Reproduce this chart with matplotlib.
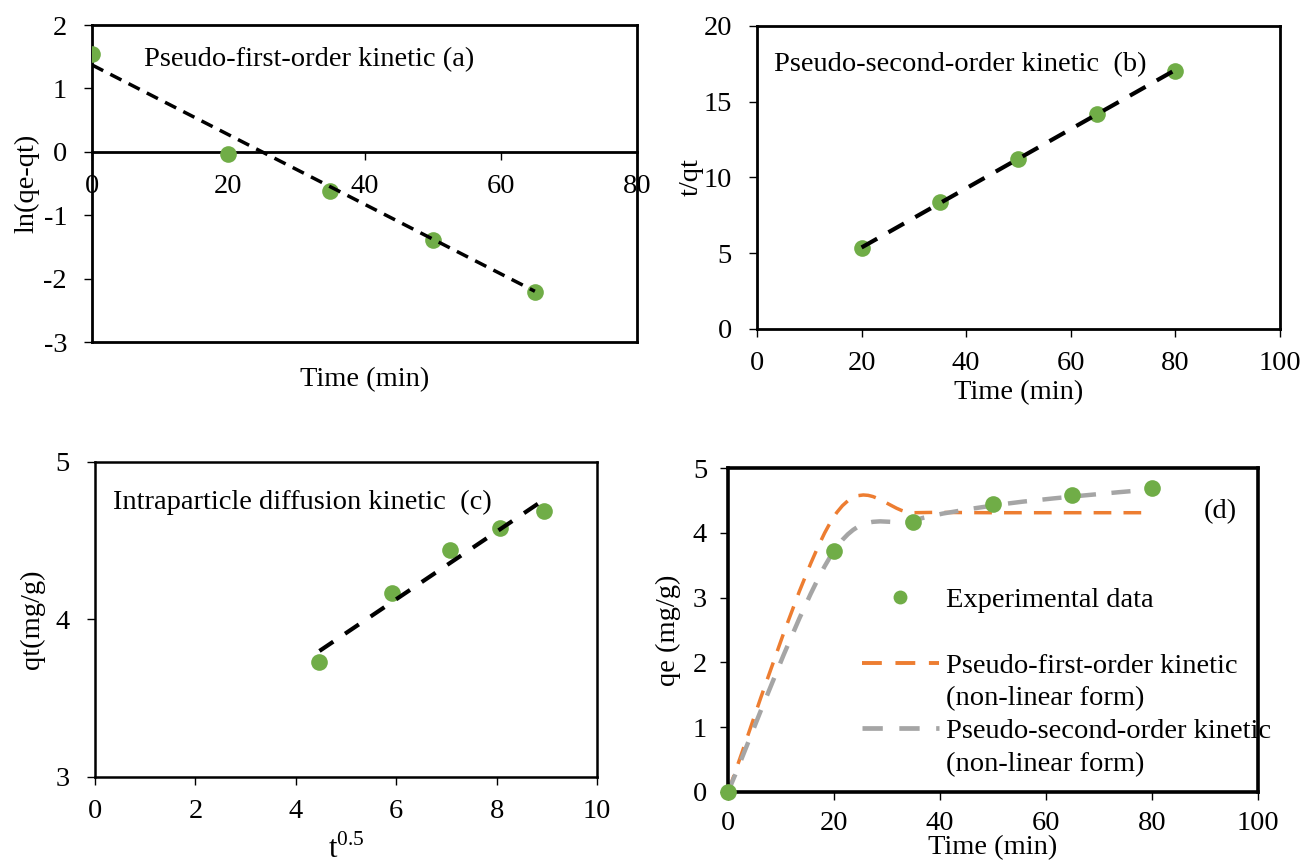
import matplotlib
matplotlib.use('Agg')
import matplotlib.pyplot as plt
import numpy as np
from matplotlib.path import Path
from matplotlib.patches import PathPatch
from matplotlib.lines import Line2D

# ---- data ----
# (a) pseudo-first-order, linear form
a_time = [0, 20, 35, 50, 65]
a_ln = [1.55, -0.04, -0.62, -1.39, -2.21]
a_fit_x = [0, 65]
a_fit_y = [1.37, -2.20]

# (b) pseudo-second-order, linear form
b_time = [20, 35, 50, 65, 80]
b_tqt = [5.36, 8.40, 11.24, 14.18, 17.06]
b_fit_x = [20, 80]
b_fit_y = [5.38, 17.10]

# (c) intraparticle diffusion
c_sqrt_t = [4.47, 5.92, 7.07, 8.06, 8.94]
c_qt = [3.73, 4.17, 4.44, 4.58, 4.69]
c_fit_x = [4.47, 8.94]
c_fit_y = [3.80, 4.76]

# (d) non-linear forms
d_time = [0, 20, 35, 50, 65, 80]
d_qe = [0, 3.72, 4.17, 4.44, 4.58, 4.69]
d_pfo = [0, 4.25, 4.31, 4.31, 4.31, 4.31]
d_pso = [0, 3.72, 4.19, 4.42, 4.56, 4.67]

GREEN = '#70AD47'
ORANGE = '#ED7D31'
GRAY = '#A5A5A5'

plt.rcParams['font.family'] = ['Liberation Serif', 'DejaVu Serif']
plt.rcParams['font.size'] = 20.5
plt.rcParams['axes.unicode_minus'] = False
plt.rcParams['mathtext.fontset'] = 'custom'
plt.rcParams['mathtext.rm'] = 'Liberation Serif'


def smooth_path(x, y):
    # Excel-like smoothed line: cubic bezier through each point
    pts = np.column_stack([x, y]).astype(float)
    n = len(pts)
    verts = [pts[0]]
    codes = [Path.MOVETO]
    for i in range(n - 1):
        p0 = pts[max(i - 1, 0)]
        p1 = pts[i]
        p2 = pts[i + 1]
        p3 = pts[min(i + 2, n - 1)]
        verts += [p1 + (p2 - p0) / 6, p2 - (p3 - p1) / 6, p2]
        codes += [Path.CURVE4] * 3
    return Path(verts, codes)


def style_axes(ax, lw):
    for s in ax.spines.values():
        s.set_linewidth(lw)
    ax.tick_params(direction='out', length=6, width=1.0, top=False, right=False)
    ax.tick_params(axis='x', pad=10)
    ax.tick_params(axis='y', pad=12)


def place_labels(ax, xl, yl):
    ax.xaxis.set_label_coords(*xl)
    ax.yaxis.set_label_coords(*yl)
    ax.xaxis.label.set_verticalalignment('center')
    ax.yaxis.label.set_verticalalignment('center')


fig = plt.figure(figsize=(13.02, 8.63), dpi=100)

# ---------- (a) ----------
ax = fig.add_axes([0.0707, 0.6037, 0.4186, 0.3673])
ax.plot(a_time, a_ln, 'o', color=GREEN, ms=12, mew=0, zorder=3)
ax.plot(a_fit_x, a_fit_y, color='black', lw=2.5, ls=(0, (3.6, 2.3)), zorder=4)
ax.set_xlim(0, 80)
ax.set_ylim(-3, 2)
ax.set_xticks([0, 20, 40, 60, 80])
ax.set_yticks([-3, -2, -1, 0, 1, 2])
style_axes(ax, 2.0)
ax.spines['bottom'].set_position(('data', 0))
ax.axhline(-3, color='black', lw=2.0, clip_on=False)
ax.text(7.6, 1.46, 'Pseudo-first-order kinetic (a)', va='center', ha='left')
ax.set_xlabel('Time (min)')
ax.set_ylabel('ln(qe-qt)')
place_labels(ax, (0.5, -0.12), (-0.119, 0.5))

# ---------- (b) ----------
ax = fig.add_axes([0.5814, 0.6188, 0.4017, 0.3511])
ax.plot(b_time, b_tqt, 'o', color=GREEN, ms=12, mew=0, zorder=3)
ax.plot(b_fit_x, b_fit_y, color='black', lw=3.0, ls=(0, (4.3, 3.1)), zorder=4)
ax.set_xlim(0, 100)
ax.set_ylim(0, 20)
ax.set_xticks(range(0, 101, 20))
ax.set_yticks(range(0, 21, 5))
style_axes(ax, 2.0)
ax.text(3.25, 17.45, 'Pseudo-second-order kinetic  (b)', va='center', ha='left')
ax.set_xlabel('Time (min)')
ax.set_ylabel('t/qt')
place_labels(ax, (0.5, -0.211), (-0.126, 0.5))

# ---------- (c) ----------
ax = fig.add_axes([0.0730, 0.0997, 0.3856, 0.3650])
ax.plot(c_sqrt_t, c_qt, 'o', color=GREEN, ms=12, mew=0, zorder=3)
ax.plot(c_fit_x, c_fit_y, color='black', lw=3.0, ls=(0, (4.0, 3.4)), zorder=4)
ax.set_xlim(0, 10)
ax.set_ylim(3, 5)
ax.set_xticks(range(0, 11, 2))
ax.set_yticks([3, 4, 5])
style_axes(ax, 1.8)
ax.text(0.36, 4.74, 'Intraparticle diffusion kinetic  (c)', va='center', ha='left')
ax.set_xlabel(r'$\mathrm{t}^{0.5}$', fontsize=22)
ax.set_ylabel('qt(mg/g)')
place_labels(ax, (0.5, -0.23), (-0.125, 0.5))

# ---------- (d) ----------
ax = fig.add_axes([0.5591, 0.0823, 0.4071, 0.3754])
pfo_ls = (0, (5.1, 3.5))
pso_ls = (0, (4.3, 3.5))
ax.add_patch(PathPatch(smooth_path(d_time, d_pfo), fill=False, edgecolor=ORANGE,
                       lw=2.5, linestyle=pfo_ls, zorder=2))
ax.add_patch(PathPatch(smooth_path(d_time, d_pso), fill=False, edgecolor=GRAY,
                       lw=3.2, linestyle=pso_ls, zorder=2))
ax.plot(d_time, d_qe, 'o', color=GREEN, ms=12, mew=0, zorder=3, clip_on=False)
ax.set_xlim(0, 100)
ax.set_ylim(0, 5)
ax.set_xticks(range(0, 101, 20))
ax.set_yticks(range(0, 6))
style_axes(ax, 2.6)
ax.tick_params(axis='x', pad=8)
ax.tick_params(axis='y', pad=9)
ax.text(92.8, 4.32, '(d)', va='center', ha='center')
ax.set_xlabel('Time (min)')
ax.set_ylabel('qe (mg/g)')
place_labels(ax, (0.5, -0.173), (-0.113, 0.5))

blank = Line2D([], [], ls='none')
handles = [Line2D([], [], ls='none', marker='o', color=GREEN, ms=10, mew=0), blank,
           Line2D([], [], color=ORANGE, lw=2.8, ls=pfo_ls), blank,
           Line2D([], [], color=GRAY, lw=3.4, ls=pso_ls), blank]
labels = ['Experimental data', ' ', 'Pseudo-first-order kinetic', '(non-linear form)',
          'Pseudo-second-order kinetic', '(non-linear form)']
ax.legend(handles, labels, loc='upper left', bbox_to_anchor=(0.253, 0.632),
          frameon=False, borderpad=0, borderaxespad=0, handlelength=2.7,
          handletextpad=0.26, labelspacing=0.24)

fig.savefig('out.png', dpi=100)
